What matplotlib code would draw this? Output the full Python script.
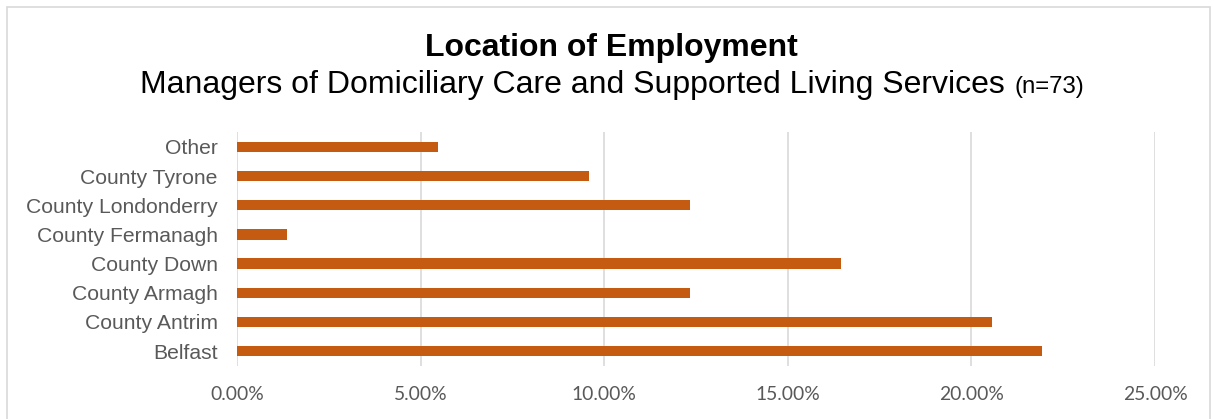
import matplotlib
matplotlib.use("Agg")
import matplotlib.pyplot as plt
from matplotlib.patches import Rectangle
from matplotlib.ticker import FuncFormatter

categories = ["Belfast", "County Antrim", "County Armagh", "County Down",
              "County Fermanagh", "County Londonderry", "County Tyrone", "Other"]
percent = [21.92, 20.55, 12.33, 16.44, 1.37, 12.33, 9.59, 5.48]
x_ticks = [0, 5, 10, 15, 20, 25]

bar_color = "#C55A11"
text_gray = "#595959"
grid_gray = "#D9D9D9"

fig = plt.figure(figsize=(12.14, 4.19), dpi=100)
ax = fig.add_axes([0.1952, 0.1274, 0.7562, 0.5566])

ypos = range(len(categories))
ax.barh(ypos, percent, height=0.35, color=bar_color, zorder=3)

ax.set_xlim(0, 25)
ax.set_ylim(-0.5, len(categories) - 0.5)
ax.set_xticks(x_ticks)
ax.xaxis.set_major_formatter(FuncFormatter(lambda v, p: f"{v:.2f}%"))
ax.set_yticks(list(ypos))
ax.set_yticklabels(categories, fontsize=15.2, family="Liberation Sans", color=text_gray)
for lab in ax.get_xticklabels():
    lab.set_fontsize(13.9)
    lab.set_family("Lato")
    lab.set_color(text_gray)

ax.tick_params(axis="both", length=0)
ax.tick_params(axis="y", pad=14)
ax.tick_params(axis="x", pad=15)
ax.grid(axis="x", color=grid_gray, linewidth=1.2, zorder=0)
for s in ax.spines.values():
    s.set_visible(False)

fig.text(0.5037, 1 - 56 / 419, "Location of Employment", ha="center", va="baseline",
         fontsize=23, fontweight="bold", family="Liberation Sans", color="black")
fig.text(140 / 1214, 1 - 93 / 419, "Managers of Domiciliary Care and Supported Living Services",
         ha="left", va="baseline", fontsize=23, family="Liberation Sans", color="black")
fig.text(1015 / 1214, 1 - 93 / 419, "(n=73)", ha="left", va="baseline",
         fontsize=17.3, family="Liberation Sans", color="black")

fig.patches.append(Rectangle((7 / 1214, -0.05), 1203 / 1214, 1.05 - 7 / 419,
                             transform=fig.transFigure, fill=False,
                             edgecolor=grid_gray, linewidth=1.2))

fig.savefig("out.png", dpi=100)
